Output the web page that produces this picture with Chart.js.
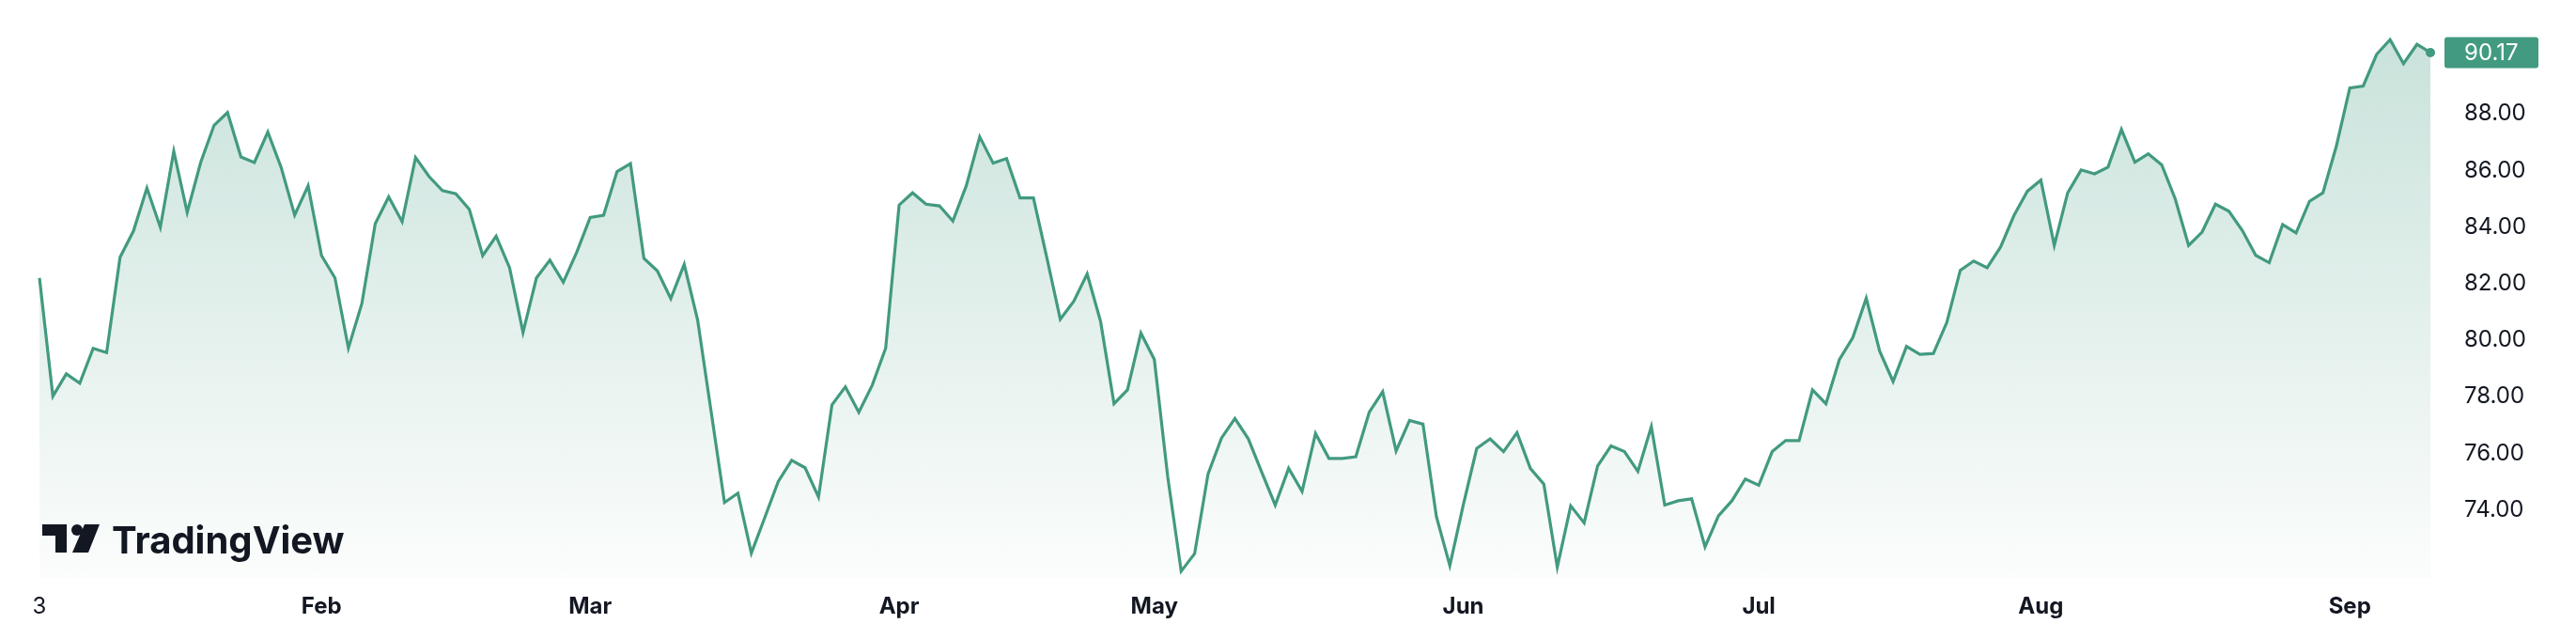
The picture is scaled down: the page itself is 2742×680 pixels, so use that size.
<!DOCTYPE html>
<html>
<head>
<meta charset="utf-8">
<script src="https://cdn.jsdelivr.net/npm/chart.js@4/dist/chart.umd.min.js"></script>
<style>
  html, body { margin: 0; padding: 0; background: #ffffff; }
  #wrap { width: 2742px; height: 680px; position: relative; }
  canvas { display: block; }
</style>
</head>
<body>
<div id="wrap"><canvas id="c" width="2742" height="680"></canvas></div>
<script>
// ---- data (daily closes) ----
const values = [
  82.20, 78.02, 78.81, 78.48, 79.71, 79.56, 82.93, 83.86, 85.38, 83.99,
  86.68, 84.52, 86.28, 87.60, 88.05, 86.48, 86.28, 87.36, 86.10, 84.42,
  85.46, 82.99, 82.20, 79.72, 81.29, 84.12, 85.07, 84.19, 86.46, 85.79,
  85.29, 85.18, 84.63, 82.99, 83.68, 82.56, 80.27, 82.20, 82.83, 82.05,
  83.11, 84.34, 84.42, 85.96, 86.24, 82.89, 82.45, 81.47, 82.68, 80.71,
  77.49, 74.26, 74.59, 72.47, 73.73, 75.00, 75.75, 75.49, 74.45, 77.71,
  78.35, 77.45, 78.41, 79.72, 84.78, 85.21, 84.81, 84.75, 84.21, 85.46,
  87.19, 86.26, 86.42, 85.03, 85.03, 82.91, 80.74, 81.37, 82.34, 80.66,
  77.75, 78.24, 80.25, 79.32, 75.16, 71.83, 72.45, 75.27, 76.54, 77.23,
  76.51, 75.33, 74.17, 75.47, 74.65, 76.70, 75.82, 75.82, 75.88, 77.45,
  78.18, 76.08, 77.16, 77.03, 73.76, 72.03, 74.17, 76.17, 76.51, 76.06,
  76.73, 75.46, 74.91, 71.98, 74.14, 73.54, 75.55, 76.26, 76.06, 75.36,
  76.94, 74.17, 74.32, 74.39, 72.69, 73.79, 74.32, 75.09, 74.87, 76.06,
  76.45, 76.45, 78.24, 77.75, 79.31, 80.09, 81.48, 79.61, 78.54, 79.78,
  79.50, 79.53, 80.63, 82.47, 82.80, 82.56, 83.29, 84.41, 85.27, 85.66,
  83.35, 85.21, 86.02, 85.88, 86.12, 87.45, 86.29, 86.59, 86.20, 85.00,
  83.35, 83.82, 84.81, 84.56, 83.88, 83.00, 82.74, 84.09, 83.79, 84.91,
  85.21, 86.86, 88.92, 88.99, 90.11, 90.63, 89.78, 90.46, 90.17
];
// category = trading-day index
const categories = values.map((_, i) => i);
// x tick labels (month starts) and the trading-day index they sit on
const xTickIndex = [0, 21, 41, 64, 83, 106, 128, 149, 172];
const xTickText  = ['3', 'Feb', 'Mar', 'Apr', 'May', 'Jun', 'Jul', 'Aug', 'Sep'];
// y tick values
const yTicks = [74, 76, 78, 80, 82, 84, 86, 88];
const lastLabel = '90.17';

// ---- styles ----
const GREEN = '#429a80';
const TEXT = '#131722';
const FONT = 'Inter, "Noto Sans", "DejaVu Sans", sans-serif';

const pointRadii = values.map((_, i) => (i === values.length - 1 ? 5 : 0));

const overlay = {
  id: 'overlay',
  afterDatasetsDraw(chart) {
    const ctx = chart.ctx;
    const area = chart.chartArea;
    const ys = chart.scales.y;
    // price label box
    const yv = ys.getPixelForValue(values[values.length - 1]);
    const bx = area.right + 15, bw = 100, bh = 33;
    ctx.save();
    ctx.fillStyle = GREEN;
    ctx.beginPath();
    if (ctx.roundRect) ctx.roundRect(bx, yv - bh / 2, bw, bh, 3);
    else ctx.rect(bx, yv - bh / 2, bw, bh);
    ctx.fill();
    ctx.fillStyle = '#ffffff';
    ctx.font = '24px ' + FONT;
    ctx.textAlign = 'left';
    ctx.textBaseline = 'middle';
    ctx.fillText(lastLabel, area.right + 36, yv + 1);

    // TradingView watermark
    ctx.fillStyle = TEXT;
    ctx.fillRect(45, 558, 26, 12);
    ctx.fillRect(59, 558, 12, 30);
    ctx.beginPath();
    ctx.arc(82, 564, 6, 0, Math.PI * 2);
    ctx.fill();
    ctx.beginPath();
    ctx.moveTo(90, 558);
    ctx.lineTo(106, 558);
    ctx.lineTo(94, 588);
    ctx.lineTo(77, 588);
    ctx.closePath();
    ctx.fill();
    ctx.font = '700 40px ' + FONT;
    ctx.textBaseline = 'alphabetic';
    ctx.fillText('TradingView', 119, 589);
    ctx.restore();
  }
};

const ctx = document.getElementById('c').getContext('2d');
new Chart(ctx, {
  type: 'line',
  data: {
    labels: categories,
    datasets: [{
      data: values,
      borderColor: GREEN,
      borderWidth: 3.2,
      tension: 0,
      fill: 'start',
      pointRadius: pointRadii,
      pointHoverRadius: 0,
      pointBackgroundColor: GREEN,
      pointBorderWidth: 0,
      backgroundColor(c) {
        const a = c.chart.chartArea;
        if (!a) return 'rgba(66,154,128,0.15)';
        const g = c.chart.ctx.createLinearGradient(0, a.top, 0, a.bottom);
        g.addColorStop(0, 'rgba(66,154,128,0.30)');
        g.addColorStop(1, 'rgba(66,154,128,0.02)');
        return g;
      }
    }]
  },
  options: {
    responsive: false,
    animation: false,
    devicePixelRatio: 1,
    layout: { padding: { left: 42, top: 0, right: 0, bottom: 0 } },
    plugins: { legend: { display: false }, tooltip: { enabled: false } },
    scales: {
      x: {
        type: 'category',
        offset: false,
        grid: { display: false, drawTicks: false },
        border: { display: false },
        afterBuildTicks(scale) {
          scale.ticks = xTickIndex.map(v => ({ value: v }));
        },
        afterFit(scale) { scale.height = 65; },
        ticks: {
          autoSkip: false,
          maxRotation: 0,
          padding: 16,
          color: TEXT,
          font(c) {
            const i = xTickIndex.indexOf(c.tick ? c.tick.value : -1);
            return { family: FONT, size: 24, weight: i > 0 ? 'bold' : 'normal' };
          },
          callback(value) {
            const i = xTickIndex.indexOf(value);
            return i >= 0 ? xTickText[i] : '';
          }
        }
      },
      y: {
        position: 'right',
        min: 71.593,
        max: 91.863,
        grid: { display: false, drawTicks: false },
        border: { display: false },
        afterBuildTicks(scale) {
          scale.ticks = yTicks.map(v => ({ value: v }));
        },
        afterFit(scale) {
          scale.width = 155;
          scale.paddingTop = 0;
          scale.paddingBottom = 0;
        },
        ticks: {
          padding: 36,
          color: TEXT,
          font: { family: FONT, size: 24 },
          callback(v) { return Number(v).toFixed(2); }
        }
      }
    }
  },
  plugins: [overlay]
});
</script>
</body>
</html>
